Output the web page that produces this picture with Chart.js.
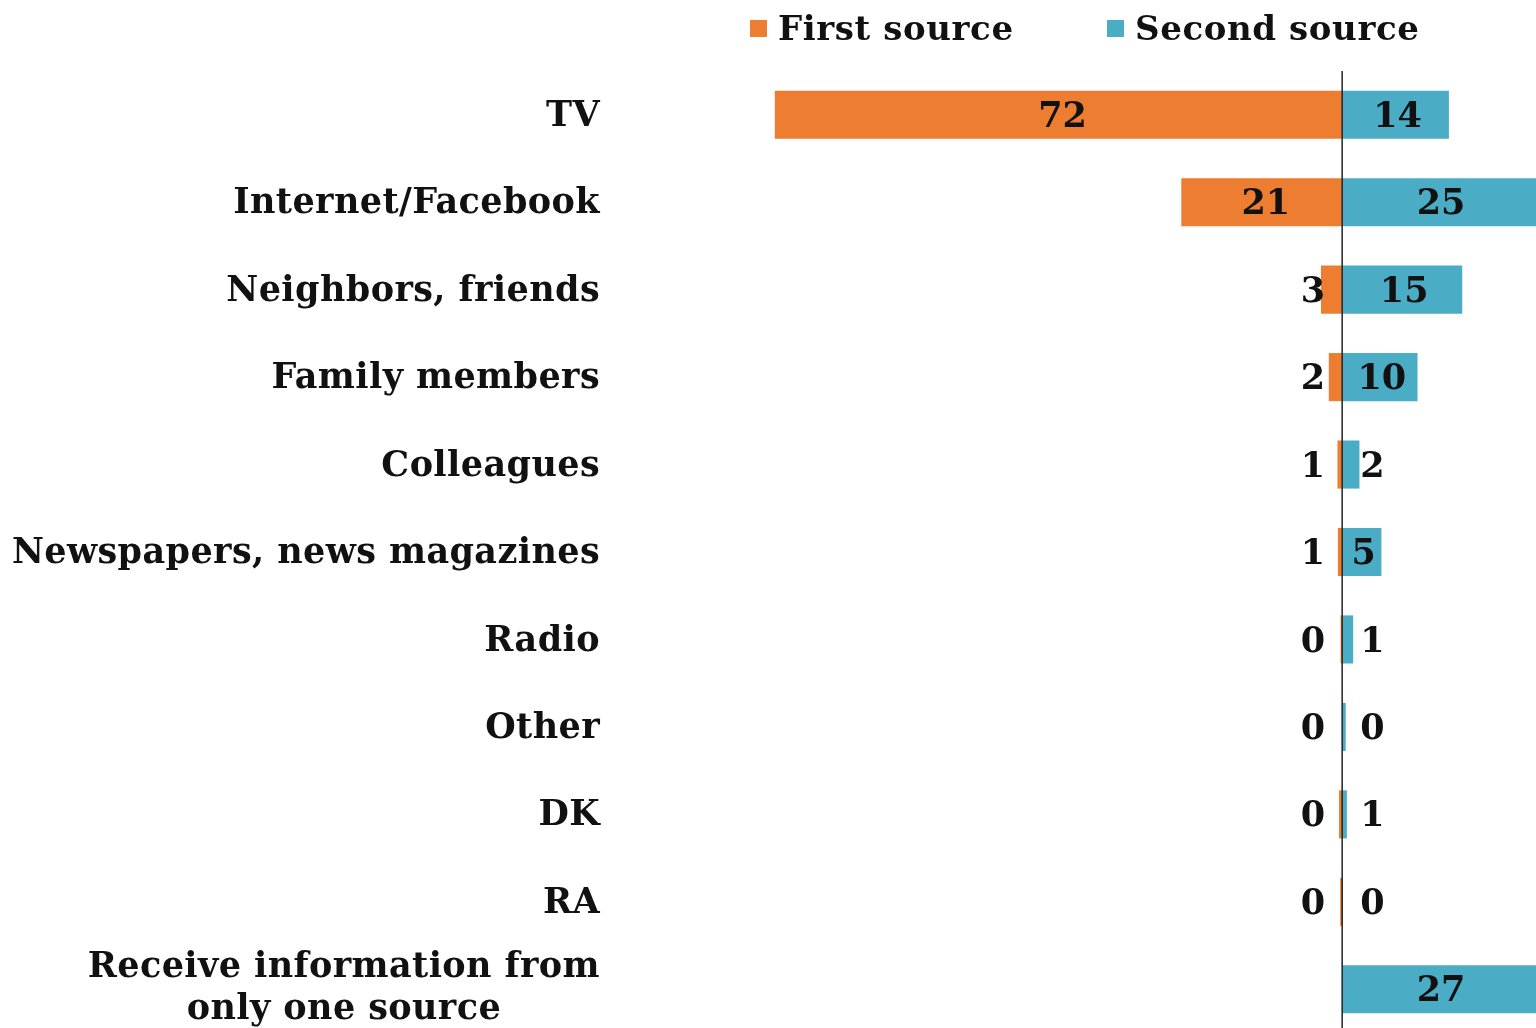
<!DOCTYPE html>
<html lang="en">
<head>
    <meta charset="UTF-8">
    <title>First and second source of information</title>
    <script src="https://cdn.jsdelivr.net/npm/chart.js"></script>
    <style>
        html, body { margin: 0; padding: 0; background: #fff; overflow: hidden; }
        .wrap { position: relative; width: 1536px; height: 1028px; overflow: hidden; }
        #chart { position: absolute; left: 0; top: 0; }
        .legend { position: absolute; top: 8px; font: bold 34px "DejaVu Serif", serif; letter-spacing: 0.6px; color: #111; white-space: nowrap; }
        .legend span.box { display: inline-block; width: 17px; height: 17px; margin-right: 11px; vertical-align: 3px; }
    </style>
</head>
<body>
    <div class="wrap">
        <canvas id="chart"></canvas>
        <div class="legend" style="left:750px"><span class="box" style="background:#ED7D31"></span>First source</div>
        <div class="legend" style="left:1107px"><span class="box" style="background:#4BACC6"></span>Second source</div>
    </div>
    <script>
        const categories = [
            'TV', 'Internet/Facebook', 'Neighbors, friends', 'Family members', 'Colleagues',
            'Newspapers, news magazines', 'Radio', 'Other', 'DK', 'RA',
            ['Receive information from', 'only one source']
        ];
        // share of respondents, % (first source drawn to the left)
        const firstSource  = [72.3, 20.5, 2.7, 1.7, 0.6, 0.55, 0.2, 0, 0.4, 0.25, null];
        const secondSource = [13.6, 25, 15.3, 9.6, 2.2, 5.0, 1.4, 0.45, 0.6, 0.1, 27];

        const labelFont = 'bold 35px "DejaVu Serif", serif';

        // category names, value labels and the zero line
        const overlay = {
            id: 'overlay',
            afterDatasetsDraw(chart) {
                const ctx = chart.ctx;
                const area = chart.chartArea;
                const x = chart.scales.x, y = chart.scales.y;
                const zero = x.getPixelForValue(0);

                ctx.save();
                ctx.font = labelFont;
                ctx.fillStyle = '#111';
                ctx.textBaseline = 'middle';
                ctx.letterSpacing = '0.4px';

                categories.forEach((cat, i) => {
                    const cy = y.getPixelForValue(i) + 2;
                    ctx.textAlign = 'right';
                    if (Array.isArray(cat)) {
                        const w0 = ctx.measureText(cat[0]).width;
                        const mid = 600 - w0 / 2;
                        ctx.textAlign = 'center';
                        ctx.fillText(cat[0], mid, cy - 23);
                        ctx.fillText(cat[1], mid, cy + 19);
                    } else {
                        ctx.fillText(cat, 600, cy);
                    }
                });

                ctx.letterSpacing = '0px';
                chart.data.datasets.forEach((ds, d) => {
                    ds.data.forEach((v, i) => {
                        if (v === null) return;
                        const shown = String(Math.round(Math.abs(v)));
                        const cy = y.getPixelForValue(i) + 3;
                        const end = Math.max(area.left, Math.min(area.right, x.getPixelForValue(v)));
                        const w = Math.abs(end - zero);
                        const tw = ctx.measureText(shown).width;
                        if (w > tw + 10) {
                            ctx.textAlign = 'center';
                            ctx.fillText(shown, (zero + end) / 2 + (d === 0 ? 4 : 2), cy);
                        } else if (d === 0) {
                            ctx.textAlign = 'right';
                            ctx.fillText(shown, zero - 17, cy);
                        } else {
                            ctx.textAlign = 'left';
                            ctx.fillText(shown, zero + 18, cy);
                        }
                    });
                });

                ctx.strokeStyle = '#222';
                ctx.lineWidth = 1.5;
                ctx.beginPath();
                ctx.moveTo(zero, area.top);
                ctx.lineTo(zero, area.bottom);
                ctx.stroke();
                ctx.restore();
            }
        };

        const canvas = document.getElementById('chart');
        canvas.width = 1536;
        canvas.height = 1033;

        new Chart(canvas.getContext('2d'), {
            type: 'bar',
            data: {
                labels: categories,
                datasets: [
                    {
                        label: 'First source',
                        data: firstSource.map(v => v === null ? null : -v),
                        backgroundColor: '#ED7D31'
                    },
                    {
                        label: 'Second source',
                        data: secondSource,
                        backgroundColor: '#4BACC6'
                    }
                ]
            },
            options: {
                indexAxis: 'y',
                responsive: false,
                animation: false,
                layout: { padding: { left: 610, top: 71, right: 0, bottom: 0 } },
                datasets: { bar: { categoryPercentage: 1, barPercentage: 0.55 } },
                plugins: { legend: { display: false }, tooltip: { enabled: false } },
                scales: {
                    x: { stacked: true, min: -93.3, max: 24.7, display: false },
                    y: { stacked: true, display: false }
                }
            },
            plugins: [overlay]
        });
    </script>
</body>
</html>
